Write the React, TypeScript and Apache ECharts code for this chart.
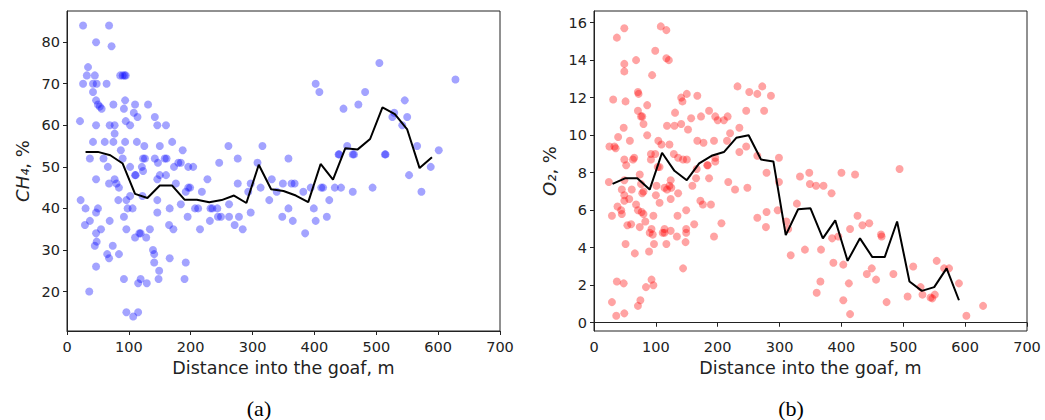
import React, { useEffect, useRef } from "react";
import * as echarts from "echarts";

// CH4 scatter points [distance m, CH4 %]
const ch4Points: number[][] = [
  [26,84],[68,84],[47,80],[72,79],[34,74],[32,72],[45,72],[86,72],[90,72],[93,72],[95,72],[26,70],[42,70],[48,70],[64,70],
  [42,68],[47,66],[50,65],[53,64.5],[56,64],[94,66],[75,65],[92,64],[110,65],[131,65],[108,63],[114,62],[21,61],[95,61],
  [102,60],[47,60],[69,60],[77,60],[142,62],[146,60],[160,60],[77,58],[42,56],[61,56],[75,56],[94,56],[113,56],[87,54],
  [125,55],[150,55],[170,56],[187,54],[37,52],[59,52],[90,52],[123,52],[126,52],[142,52],[158,52],[161,52],[147,51],[66,50],
  [102,50],[121,50],[123,49],[180,51],[184,51],[173,50],[196,50],[204,50],[246,51],[261,55],[276,52],[308,51],[316,55],
  [358,52],[402,70],[408,68],[110,48],[160,48],[47,47],[77,47],
  [505,75],[628,71],[482,68],[546,66],[447,64],[471,65],[529,63],[526,62],[550,62],[542,60],[566,55],[439,53],[453,55],
  [464,53],[514,53],[601,54],[588,50],[553,48],[331,47],
  [22,42],[30,40],[29,36],[37,37],[47,39],[50,40],[47,34],[48,32],[45,31],[55,35],[47,26],[36,20],[69,37],[74,31],[65,29],
  [68,28],[84,29],[92,23],[68,46],[80,46],[84,45],[83,42],[92,38],[96,35],[96,42],[102,43],[98,40],[106,40],[96,15],[107,14],
  [115,15],[115,22],[119,23],[129,22],[110,33],[117,34],[119,34],[128,33],[134,35],[139,30],[141,29],[141,27],[149,25],
  [148,23],[146,39],[146,42],[111,48],[122,43],[146,47],[150,48],[176,46],[166,40],[165,36],[172,35],[166,28],[184,41],
  [196,45],[199,45],[192,44],[195,38],[192,27],[190,23],[207,40],[212,40],[215,35],[218,44],[227,47],[231,37],[232,40],
  [235,40],[243,40],[244,38],[249,38],[262,41],[262,38],[271,36],[276,46],[278,38],[284,35],[293,44],[297,46],[297,39],
  [313,45],[327,42],[339,44],[349,46],[358,40],[348,38],[363,46],[368,46],[365,37],[382,44],[394,45],[399,40],[402,37],
  [385,34],[411,45],[414,45],[420,38],[424,42],[433,45],[443,45],[440,53],[462,53],[462,44],[494,45],[515,53],[573,44]
];

// O2 scatter points [distance m, O2 %]
const o2Points: number[][] = [
  [37,15.2],[49,15.7],[108,15.8],[117,15.6],[99,14.5],[117,14.1],[121,14.0],[49,13.8],[68,14.0],[49,13.4],[94,13.2],
  [232,12.6],[272,12.6],[251,12.3],[264,12.2],[286,12.1],[71,12.3],[72,12.2],[31,11.9],[51,11.8],[141,12.0],[143,11.8],
  [150,12.2],[167,12.1],[275,11.3],[246,11.3],[86,11.6],[71,11.3],[76,11.0],[78,11.0],[80,10.6],[131,11.2],[186,11.3],
  [196,11.0],[200,10.8],[216,11.0],[210,10.8],[173,11.0],[157,10.9],[141,10.6],[118,10.5],[130,10.5],[152,10.3],[48,10.4],
  [235,10.4],[220,10.1],[86,10.0],[39,9.9],[25,9.4],[33,9.4],[35,9.3],[58,9.7],[104,9.7],[122,9.5],[109,9.5],[167,9.7],
  [177,9.6],[194,9.7],[215,9.7],[246,9.4],[235,9.1],[92,9.0],[99,9.0],[129,9.0],[49,8.7],[52,8.4],[63,8.7],[65,8.8],
  [92,8.7],[136,8.8],[144,8.7],[150,8.7],[184,8.4],[196,8.6],[196,8.8],[264,8.9],[279,8.0],[299,8.8],[103,8.3],[74,7.9],
  [333,7.8],[348,8.0],
  [24,7.5],[29,5.7],[29,1.1],[36,0.37],[49,0.5],[37,2.2],[48,2.1],[38,6.2],[44,6.0],[45,5.8],[45,7.1],[49,6.8],[49,6.5],
  [57,6.6],[61,7.1],[49,7.6],[51,4.2],[54,5.2],[60,5.25],[66,3.7],[75,1.2],[71,0.9],[68,6.3],[71,6.0],[77,5.9],[80,5.8],
  [74,5.1],[83,5.4],[76,7.4],[80,7.0],[78,6.9],[90,4.8],[93,5.0],[95,4.7],[96,5.7],[97,4.2],[89,3.8],[84,1.9],[93,2.3],
  [96,2.0],[100,6.8],[101,7.3],[106,6.4],[106,8.3],[111,4.8],[114,4.8],[114,5.0],[117,4.2],[114,7.2],[118,7.1],[122,7.3],
  [125,7.2],[124,6.6],[124,7.6],[136,6.9],[135,5.7],[124,4.9],[134,4.6],[144,2.9],[149,5.0],[149,4.8],[149,6.0],[148,4.3],
  [159,7.3],[162,5.25],[165,7.7],[166,8.2],[172,6.5],[176,6.3],[183,8.4],[186,7.7],[189,6.3],[194,4.6],[206,5.3],
  [217,7.5],[228,7.1],[248,7.2],[264,5.6],[278,5.1],[279,5.9],[297,6.0],[299,7.5],[311,5.4],[318,3.6],[341,3.9],
  [349,7.4],[359,7.3],[371,7.3],[400,8.0],[422,7.9],[494,8.2],[384,6.9],[328,6.35],[314,5.0],[426,5.7],[434,5.2],
  [445,5.3],[414,5.0],[385,4.5],[395,4.6],[464,4.7],[465,4.6],[367,3.9],[387,3.2],[403,3.1],[449,2.9],[441,2.6],
  [456,2.3],[484,2.6],[516,3.0],[554,3.3],[566,2.9],[574,2.9],[590,2.1],[366,2.2],[360,1.6],[412,2.1],[403,1.2],
  [414,0.46],[473,1.1],[507,1.4],[528,1.9],[531,1.5],[544,1.35],[547,1.3],[551,1.5],[602,0.37],[629,0.9]
];

// Moving-average lines
const lineX = [30,50,70,90,110,130,150,170,190,210,230,250,270,290,310,330,350,370,390,410,430,450,470,490,510,530,550,570,590];
const ch4Mean = [53.6,53.6,52.8,50.8,43.5,42.5,45.5,45.5,42.1,42.1,41.5,42.0,43.1,41.3,50.5,44.6,44.2,43.1,41.5,50.7,46.9,54.5,54.2,56.7,64.3,62.7,59.0,49.7,52.3];
const o2Mean = [7.4,7.7,7.7,7.1,9.06,8.1,7.6,8.5,8.9,9.1,9.86,10.0,8.7,8.6,4.67,6.05,6.1,4.5,5.46,3.3,4.5,3.5,3.5,5.4,2.2,1.7,1.9,2.9,1.2];

const ch4Ticks = [20,30,40,50,60,70,80];
const o2Ticks = [0,2,4,6,8,10,12,14,16];

const FONT = "DejaVu Sans";
const TEXT = "#222";

export default function App() {
  const ref = useRef<HTMLDivElement>(null);
  useEffect(() => {
    if (!ref.current) return;
    const chart = echarts.init(ref.current, null, { renderer: "svg" });
    const axisCommon = {
      axisLine: { show: true, lineStyle: { color: TEXT, width: 1 } },
      axisTick: { show: true, inside: false, length: 4, lineStyle: { color: TEXT } },
      splitLine: { show: false },
      axisLabel: { color: TEXT, fontFamily: FONT, fontSize: 14.5, margin: 7 },
    };
    const xAxis = (gi: number) => ({
      type: "value", gridIndex: gi, min: 0, max: 700, interval: 100,
      ...axisCommon,
      axisLabel: { ...axisCommon.axisLabel, margin: 8 },
      name: "Distance into the goaf, m", nameLocation: "middle", nameGap: 28,
      nameTextStyle: { color: TEXT, fontFamily: FONT, fontSize: 17.5 },
    });
    const yName = (label: string, gap: number) => ({
      name: label, nameLocation: "middle", nameGap: gap, nameRotate: 90,
      nameTextStyle: {
        color: TEXT, fontFamily: FONT, fontSize: 18,
        rich: { i: { fontStyle: "italic", fontFamily: FONT, fontSize: 18, color: TEXT } },
      },
    });
    const lineData = (ys: number[]) => lineX.map((x, i) => [x, ys[i]]);
    chart.setOption({
      animation: false,
      grid: [
        { left: 67, top: 11, width: 433, height: 320, show: true, borderColor: TEXT, borderWidth: 1, backgroundColor: "transparent" },
        { left: 594, top: 11, width: 433, height: 320, show: true, borderColor: TEXT, borderWidth: 1, backgroundColor: "transparent" },
      ],
      xAxis: [xAxis(0), xAxis(1)],
      yAxis: [
        {
          type: "value", gridIndex: 0, min: 10.5, max: 87.5,
          ...axisCommon,
          axisTick: { ...axisCommon.axisTick, customValues: ch4Ticks },
          axisLabel: { ...axisCommon.axisLabel, customValues: ch4Ticks },
          ...yName("{i|CH₄}, %", 36),
        },
        {
          type: "value", gridIndex: 1, min: -0.44, max: 16.62,
          ...axisCommon,
          axisTick: { ...axisCommon.axisTick, customValues: o2Ticks },
          axisLabel: { ...axisCommon.axisLabel, customValues: o2Ticks },
          ...yName("{i|O₂}, %", 36),
        },
      ],
      series: [
        { type: "scatter", xAxisIndex: 0, yAxisIndex: 0, data: ch4Points, symbolSize: 8, itemStyle: { color: "rgba(0,0,255,0.45)" } },
        { type: "line", xAxisIndex: 0, yAxisIndex: 0, data: lineData(ch4Mean), showSymbol: false, lineStyle: { color: "#000", width: 2 } },
        { type: "scatter", xAxisIndex: 1, yAxisIndex: 1, data: o2Points, symbolSize: 8, itemStyle: { color: "rgba(255,0,0,0.45)" } },
        { type: "line", xAxisIndex: 1, yAxisIndex: 1, data: lineData(o2Mean), showSymbol: false, lineStyle: { color: "#000", width: 2 } },
      ],
      graphic: [
        { type: "text", x: 259, y: 408, style: { text: "(a)", font: "22px 'Liberation Serif'", fill: "#000", align: "center", verticalAlign: "middle" } },
        { type: "text", x: 791, y: 408, style: { text: "(b)", font: "22px 'Liberation Serif'", fill: "#000", align: "center", verticalAlign: "middle" } },
      ],
    });
    return () => chart.dispose();
  }, []);
  return <div ref={ref} style={{ position: "fixed", left: 0, top: 0, width: 1045, height: 420, background: "#fff" }} />;
}
